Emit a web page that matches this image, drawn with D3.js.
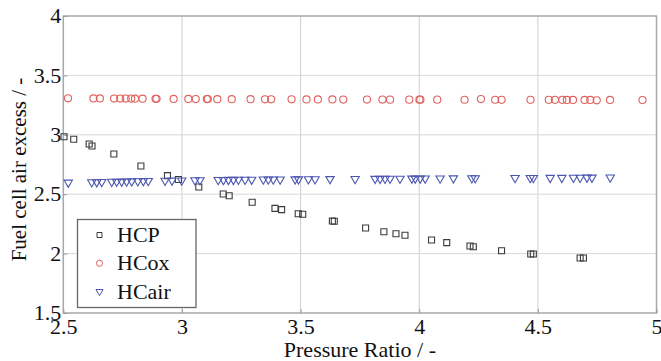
<!DOCTYPE html>
<html>
<head>
<meta charset="utf-8">
<script src="https://cdn.jsdelivr.net/npm/d3@7"></script>
<style>
  body { margin: 0; background: #fff; }
  svg text { font-family: "Liberation Serif", "Times New Roman", serif; fill: #111; }
</style>
</head>
<body>
<script>
var width = 661;
var height = 361;

// axis ticks
var xTicks = [2.5, 3, 3.5, 4, 4.5, 5];
var yTicks = [1.5, 2, 2.5, 3, 3.5, 4];

// HCP (squares)
var hcpX = [2.503, 2.544, 2.609, 2.621, 2.713, 2.827, 2.939, 2.985, 3.071, 3.174,
            3.199, 3.296, 3.392, 3.420, 3.490, 3.509, 3.634, 3.642, 3.774, 3.851,
            3.902, 3.940, 4.052, 4.116, 4.214, 4.228, 4.347, 4.470, 4.481, 4.678, 4.692];
var hcpY = [2.984, 2.962, 2.923, 2.906, 2.838, 2.737, 2.656, 2.624, 2.561, 2.502,
            2.487, 2.432, 2.381, 2.370, 2.336, 2.331, 2.274, 2.272, 2.215, 2.184,
            2.167, 2.154, 2.114, 2.092, 2.064, 2.058, 2.024, 1.997, 1.997, 1.963, 1.963];

// HCox (circles)
var hcoxX = [2.520, 2.627, 2.654, 2.714, 2.740, 2.763, 2.786, 2.802, 2.834, 2.889,
             2.893, 2.965, 3.027, 3.058, 3.105, 3.109, 3.149, 3.210, 3.289, 3.350,
             3.376, 3.462, 3.525, 3.573, 3.634, 3.680, 3.780, 3.845, 3.877, 3.958,
             4.001, 4.005, 4.076, 4.191, 4.260, 4.320, 4.347, 4.469, 4.546, 4.572,
             4.603, 4.622, 4.648, 4.697, 4.721, 4.748, 4.804, 4.941];
var hcoxY = [3.307, 3.306, 3.306, 3.305, 3.305, 3.305, 3.305, 3.304, 3.304, 3.303,
             3.303, 3.302, 3.302, 3.301, 3.301, 3.301, 3.300, 3.300, 3.300, 3.299,
             3.299, 3.299, 3.298, 3.298, 3.298, 3.297, 3.297, 3.297, 3.296, 3.296,
             3.296, 3.296, 3.296, 3.295, 3.301, 3.295, 3.294, 3.294, 3.294, 3.294,
             3.294, 3.293, 3.293, 3.293, 3.293, 3.290, 3.293, 3.292];

// HCair (down triangles)
var hcairX = [2.521, 2.620, 2.641, 2.662, 2.704, 2.725, 2.746, 2.767, 2.788, 2.814,
              2.837, 2.858, 2.929, 2.958, 2.999, 3.055, 3.076, 3.153, 3.175, 3.196,
              3.217, 3.238, 3.266, 3.294, 3.343, 3.364, 3.385, 3.414, 3.477, 3.491,
              3.533, 3.561, 3.624, 3.730, 3.814, 3.835, 3.856, 3.877, 3.919, 3.969,
              3.983, 4.004, 4.025, 4.088, 4.144, 4.222, 4.236, 4.404, 4.468, 4.481,
              4.552, 4.601, 4.650, 4.678, 4.707, 4.728, 4.805];
var hcairY = [2.598, 2.601, 2.602, 2.603, 2.605, 2.606, 2.607, 2.608, 2.609, 2.610,
              2.611, 2.612, 2.614, 2.615, 2.616, 2.618, 2.618, 2.620, 2.620, 2.621,
              2.621, 2.622, 2.622, 2.623, 2.624, 2.624, 2.625, 2.625, 2.626, 2.626,
              2.627, 2.627, 2.628, 2.629, 2.630, 2.630, 2.631, 2.631, 2.631, 2.632,
              2.632, 2.632, 2.633, 2.633, 2.634, 2.635, 2.635, 2.637, 2.637, 2.637,
              2.638, 2.638, 2.639, 2.639, 2.640, 2.640, 2.641];

var legendNames = ["HCP", "HCox", "HCair"];

var plotL = 63.3, plotR = 656.5, plotT = 16, plotB = 313;
var serif = "'Liberation Serif', 'Times New Roman', serif";

var x = d3.scaleLinear().domain([2.5, 5]).range([plotL, plotR]);
var y = d3.scaleLinear().domain([1.5, 4]).range([plotB, plotT]);

var svg = d3.select("body").append("svg")
    .attr("width", width)
    .attr("height", height)
    .attr("font-family", serif);

svg.append("rect")
    .attr("width", width)
    .attr("height", height)
    .attr("fill", "#ffffff");

// grid
svg.append("g").selectAll("line").data(xTicks.slice(1, -1)).enter().append("line")
    .attr("x1", function(d) { return x(d); })
    .attr("x2", function(d) { return x(d); })
    .attr("y1", plotT).attr("y2", plotB)
    .style("stroke", "#cfcfcf").style("stroke-width", 1);

svg.append("g").selectAll("line").data(yTicks.slice(1, -1)).enter().append("line")
    .attr("x1", plotL).attr("x2", plotR)
    .attr("y1", function(d) { return y(d); })
    .attr("y2", function(d) { return y(d); })
    .style("stroke", "#d8d8d8").style("stroke-width", 1);

// frame
svg.append("rect")
    .attr("x", plotL).attr("y", plotT)
    .attr("width", plotR - plotL).attr("height", plotB - plotT)
    .attr("fill", "none")
    .style("stroke", "#a8a8a8").style("stroke-width", 1.5);

// axes (labels only, ticks inward)
var xAxis = d3.axisBottom(x).tickValues(xTicks).tickSize(-4).tickPadding(5)
    .tickFormat(d3.format("~g"));
var yAxis = d3.axisLeft(y).tickValues(yTicks).tickSize(-4).tickPadding(2)
    .tickFormat(d3.format("~g"));

var gx = svg.append("g").attr("transform", "translate(0," + plotB + ")").call(xAxis);
var gy = svg.append("g").attr("transform", "translate(" + plotL + ",0)").call(yAxis);
[gx, gy].forEach(function(g) {
    g.attr("font-family", serif).attr("font-size", 22);
    g.select(".domain").remove();
    g.selectAll(".tick line").style("stroke", "#999");
    g.selectAll(".tick text")
        .style("font-family", serif)
        .style("font-size", "22px")
        .attr("fill", "#111");
});
gy.selectAll(".tick text").attr("dy", "0.3em");

// axis titles
svg.append("text")
    .text("Pressure Ratio / -")
    .attr("x", (plotL + plotR) / 2)
    .attr("y", 357)
    .attr("text-anchor", "middle")
    .style("font-family", serif)
    .style("font-size", "22px");

svg.append("text")
    .text("Fuel cell air excess / -")
    .attr("transform", "translate(26," + ((plotT + plotB) / 2 + 5) + ") rotate(-90)")
    .attr("text-anchor", "middle")
    .style("font-family", serif)
    .style("font-size", "21px");

// markers
var squareSym = d3.symbol().type(d3.symbolSquare).size(36);
var circleSym = d3.symbol().type(d3.symbolCircle).size(40);
var triSym = d3.symbol().type(d3.symbolTriangle).size(30);

var colHCP = "#3a3a3a", colHCox = "#e0625e", colHCair = "#4a56b0";

svg.append("g").selectAll("path").data(hcpX).enter().append("path")
    .attr("d", squareSym)
    .attr("transform", function(d, i) { return "translate(" + x(d) + "," + y(hcpY[i]) + ")"; })
    .attr("fill", "none").style("stroke", colHCP).style("stroke-width", 1.1);

svg.append("g").selectAll("path").data(hcoxX).enter().append("path")
    .attr("d", circleSym)
    .attr("transform", function(d, i) { return "translate(" + x(d) + "," + y(hcoxY[i]) + ")"; })
    .attr("fill", "none").style("stroke", colHCox).style("stroke-width", 1.1);

svg.append("g").selectAll("path").data(hcairX).enter().append("path")
    .attr("d", triSym)
    .attr("transform", function(d, i) { return "translate(" + x(d) + "," + y(hcairY[i]) + ") rotate(180)"; })
    .attr("fill", "none").style("stroke", colHCair).style("stroke-width", 1.1);

// legend
var legend = svg.append("g");
legend.append("rect")
    .attr("x", 77.5).attr("y", 219.5)
    .attr("width", 118.5).attr("height", 88)
    .attr("fill", "#fff")
    .style("stroke", "#666").style("stroke-width", 1.3);

var legendSyms = [
    {sym: d3.symbol().type(d3.symbolSquare).size(25), col: colHCP, rot: 0},
    {sym: d3.symbol().type(d3.symbolCircle).size(30), col: colHCox, rot: 0},
    {sym: d3.symbol().type(d3.symbolTriangle).size(22), col: colHCair, rot: 180}
];

legendNames.forEach(function(name, i) {
    var ly = 235 + i * 28.3;
    legend.append("path")
        .attr("d", legendSyms[i].sym)
        .attr("transform", "translate(99.5," + ly + ") rotate(" + legendSyms[i].rot + ")")
        .attr("fill", "none")
        .style("stroke", legendSyms[i].col).style("stroke-width", 1);
    legend.append("text")
        .text(name)
        .attr("x", 117)
        .attr("y", ly + 7)
        .style("font-family", serif)
        .style("font-size", "22px");
});
</script>
</body>
</html>
